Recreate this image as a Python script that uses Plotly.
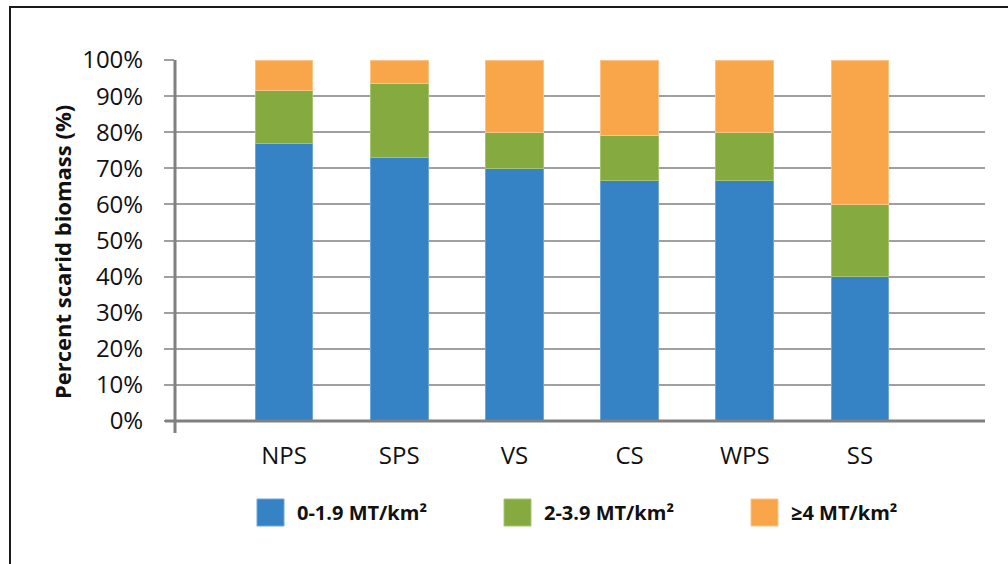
import plotly.graph_objects as go

# Scarid biomass share by region, split into biomass classes
regions = ["NPS", "SPS", "VS", "CS", "WPS", "SS"]
class_names = ["0-1.9 MT/km²", "2-3.9 MT/km²", "≥4 MT/km²"]
low_pct = [77.0, 73.0, 70.0, 66.7, 66.7, 40.0]
mid_pct = [14.5, 20.5, 10.0, 12.3, 13.3, 20.0]
high_pct = [8.5, 6.5, 20.0, 21.0, 20.0, 40.0]
y_ticks = list(range(0, 101, 10))

colors = ["#3582C5", "#84AA40", "#F9A54A"]
edge_colors = ["#6FA6D8", "#A6C470", "#FBC487"]
FONT = "Liberation Sans Narrow, Arial Narrow, Open Sans, sans-serif"

fig = go.Figure()
for name, vals, col, edge in zip(class_names, [low_pct, mid_pct, high_pct], colors, edge_colors):
    fig.add_trace(go.Bar(
        x=regions, y=vals, name=name,
        marker=dict(color=col, line=dict(color=edge, width=1)),
        width=0.503, showlegend=False,
    ))

# plot-area geometry in pixels, used to place decorations in paper units
L, R, T, B = 175, 985, 60, 421
def px(x):
    return (x - L) / (R - L)
def py(y):
    return (B - y) / (B - T)

shapes = [
    # outer frame
    dict(type="rect", xref="paper", yref="paper",
         x0=px(10), x1=px(1030), y0=py(585), y1=py(7),
         line=dict(color="#1a1a1a", width=2), fillcolor="rgba(0,0,0,0)"),
    # axis lines with short crossing overhangs
    dict(type="line", xref="paper", yref="paper",
         x0=px(165), x1=1.0, y0=0, y1=0,
         line=dict(color="#808080", width=3)),
    dict(type="line", xref="paper", yref="paper",
         x0=0, x1=0, y0=py(433), y1=1.0,
         line=dict(color="#808080", width=3)),
]

annotations = [
    dict(text="<b>Percent scarid biomass (%)</b>", textangle=-90,
         xref="paper", yref="paper", x=px(62), y=py(252),
         xanchor="center", yanchor="middle", showarrow=False,
         font=dict(family=FONT, size=22, color="#111")),
]

# legend keys drawn as squares with labels
key_y0, key_y1 = 499, 526
for i, (name, col, edge) in enumerate(zip(class_names, colors, edge_colors)):
    kx = 257 + 247 * i
    shapes.append(dict(type="rect", xref="paper", yref="paper",
                       x0=px(kx), x1=px(kx + 27), y0=py(key_y1), y1=py(key_y0),
                       fillcolor=col, line=dict(color=edge, width=1)))
    annotations.append(dict(text=f"<b>{name}</b>", xref="paper", yref="paper",
                            x=px(kx + 38), y=py((key_y0 + key_y1) / 2),
                            xanchor="left", yanchor="middle", showarrow=False,
                            font=dict(family=FONT, size=20, color="#111")))

fig.update_layout(
    barmode="stack",
    width=1008, height=564,
    margin=dict(l=L, r=1008 - R, t=T, b=564 - B),
    paper_bgcolor="white", plot_bgcolor="white",
    font=dict(family=FONT, color="#111"),
    shapes=shapes, annotations=annotations,
    showlegend=False,
)
fig.update_xaxes(
    type="category", range=[-0.946, 6.085],
    showgrid=False, showline=False, zeroline=False, ticks="",
    tickfont=dict(family=FONT, size=24, color="#111"),
    ticklabelstandoff=18,
)
fig.update_yaxes(
    range=[0, 100], tickvals=y_ticks, ticktext=[f"{v}%" for v in y_ticks],
    showgrid=True, gridcolor="#A0A0A0", gridwidth=2,
    zeroline=False, showline=False,
    ticks="outside", ticklen=10, tickcolor="#A0A0A0", tickwidth=2,
    tickfont=dict(family=FONT, size=24, color="#111"),
    ticklabelstandoff=16,
)

fig.write_html("out.html")
